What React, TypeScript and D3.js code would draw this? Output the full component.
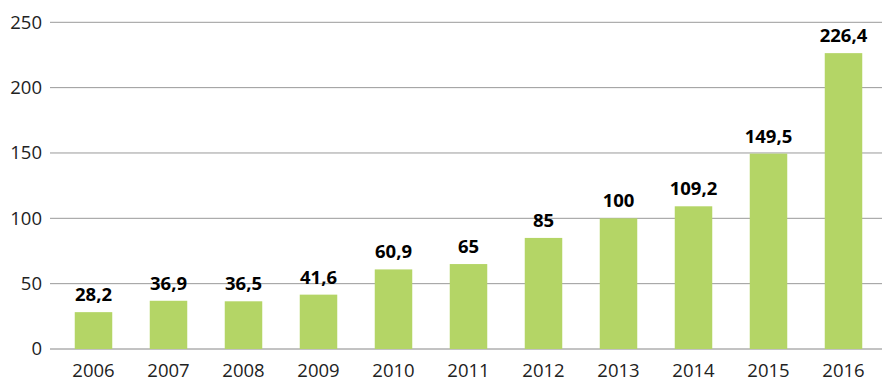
import * as d3 from "d3";

const years = ["2006", "2007", "2008", "2009", "2010", "2011", "2012", "2013", "2014", "2015", "2016"];
const values = [28.2, 36.9, 36.5, 41.6, 60.9, 65, 85, 100, 109.2, 149.5, 226.4];
const yTicks = [0, 50, 100, 150, 200, 250];

const W = 894;
const H = 385;
const font = "'Open Sans', 'DejaVu Sans', sans-serif";

const fmt = (v: number) => String(v).replace(".", ",");

export default function App() {
  const x = d3.scaleBand<string>().domain(years).range([56, 881]).paddingInner(0.5).paddingOuter(0.25);
  const y = d3.scaleLinear().domain([0, 250]).range([349, 22.3]);

  return (
    <svg width={W} height={H} style={{ position: "absolute", left: 0, top: 0, background: "#fff" }}>
      {yTicks.map((t) => (
        <g key={t}>
          <line x1={50} x2={882} y1={y(t)} y2={y(t)} stroke={t === 0 ? "#868686" : "#9a9a9a"} strokeWidth={1} />
          <text x={42} y={y(t)} dy="0.35em" textAnchor="end" fontFamily={font} fontSize={18.5} fill="#222">
            {t}
          </text>
        </g>
      ))}
      {years.map((yr, i) => (
        <g key={yr}>
          <rect x={x(yr)} y={y(values[i])} width={x.bandwidth()} height={y(0) - y(values[i])} fill="#b4d566" />
          <text
            x={(x(yr) ?? 0) + x.bandwidth() / 2}
            y={y(values[i]) - 11}
            textAnchor="middle"
            fontFamily={font}
            fontWeight="bold"
            fontSize={18.5}
            fill="#000"
          >
            {fmt(values[i])}
          </text>
          <text
            x={(x(yr) ?? 0) + x.bandwidth() / 2}
            y={377}
            textAnchor="middle"
            fontFamily={font}
            fontSize={18.5}
            fill="#222"
          >
            {yr}
          </text>
        </g>
      ))}
    </svg>
  );
}
